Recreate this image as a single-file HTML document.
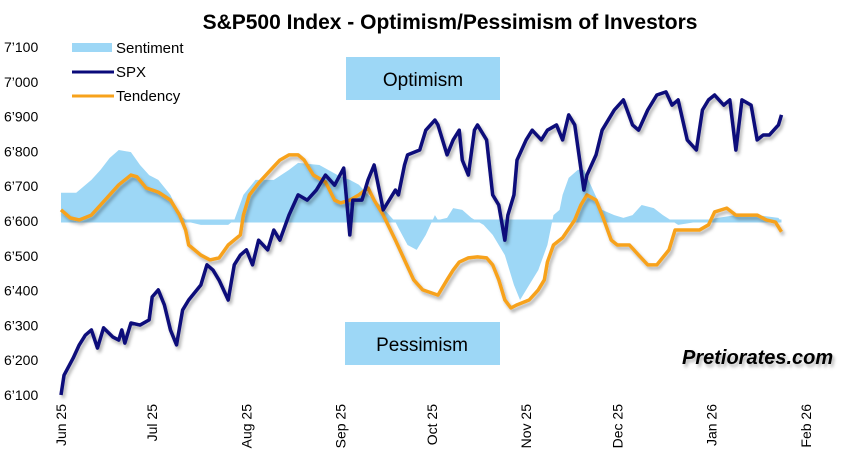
<!DOCTYPE html>
<html><head><meta charset="utf-8"><style>
body{margin:0;background:#fff}
svg{display:block;font-family:"Liberation Sans",Arial,sans-serif}
</style></head><body>
<svg id="c" width="852" height="460">
<defs><filter id="sh" x="-5%" y="-5%" width="110%" height="120%"><feDropShadow dx="2" dy="3" stdDeviation="1.5" flood-color="#000" flood-opacity="0.3"/></filter></defs>
<text x="450" y="29" text-anchor="middle" font-size="21" font-weight="bold">S&amp;P500 Index - Optimism/Pessimism of Investors</text>
<rect x="346" y="57" width="154" height="43" fill="#9dd7f6"/>
<text x="423" y="86" text-anchor="middle" font-size="19">Optimism</text>
<rect x="345" y="322" width="155" height="43" fill="#9dd7f6"/>
<text x="422" y="351" text-anchor="middle" font-size="19">Pessimism</text>
<g id="plot"></g>
<g>
<rect x="72" y="43" width="40" height="9" fill="#9dd7f6"/>
<text x="116" y="53" font-size="15">Sentiment</text>
<line x1="72" y1="72" x2="114" y2="72" stroke="#0a0a7a" stroke-width="3"/>
<text x="116" y="77" font-size="15">SPX</text>
<line x1="72" y1="96" x2="114" y2="96" stroke="#f7a21b" stroke-width="3"/>
<text x="116" y="101" font-size="15">Tendency</text>
</g>
<text x="682" y="364" font-size="20" font-weight="bold" font-style="italic" filter="url(#sh)">Pretiorates.com</text>
</svg>
<script>
const yTicks=[6100,6200,6300,6400,6500,6600,6700,6800,6900,7000,7100];
const monthLabels=["Jun 25","Jul 25","Aug 25","Sep 25","Oct 25","Nov 25","Dec 25","Jan 26","Feb 26"];
const monthDays=[0,30,61,92,122,153,183,214,245];
const spxDays=[0,1,4,6,8,10,12,14,17,19,20,21,23,26,29,30,32,34,36,38,40,42,46,48,50,52,55,57,59,61,63,65,68,70,72,75,78,81,84,87,90,93,95,96,99,101,103,105,106,110,111,113,114,118,120,123,124,127,129,131,132,134,136,137,140,142,144,146,147,149,150,153,155,158,160,163,165,167,169,172,173,176,178,180,182,185,188,190,193,196,199,201,203,206,209,211,213,215,218,220,222,224,227,229,231,233,236,237];
const spxValues=[6100,6157,6206,6244,6272,6287,6235,6293,6267,6258,6287,6249,6307,6301,6316,6382,6402,6359,6287,6244,6344,6373,6416,6474,6459,6430,6373,6474,6502,6517,6474,6545,6517,6574,6545,6617,6675,6660,6689,6732,6703,6752,6560,6660,6660,6718,6761,6675,6632,6689,6675,6761,6790,6804,6861,6890,6876,6790,6833,6861,6775,6732,6861,6876,6833,6675,6646,6545,6617,6675,6775,6833,6861,6833,6861,6876,6833,6905,6876,6689,6732,6790,6861,6890,6919,6948,6876,6861,6919,6962,6971,6933,6948,6833,6804,6919,6948,6962,6933,6948,6804,6948,6933,6833,6847,6847,6876,6905];
const tenDays=[0,3,6,10,13,16,19,23,25,28,32,36,39,41,42,46,49,52,55,59,60,62,65,69,72,75,78,80,83,87,90,92,95,98,101,103,106,110,113,116,119,124,127,129,131,134,137,140,142,144,146,148,150,154,157,159,160,162,165,169,171,173,176,178,181,183,187,190,193,196,200,202,206,210,213,215,219,222,225,229,232,235,237];
const tenValues=[6632,6609,6603,6617,6646,6675,6704,6732,6727,6695,6683,6660,6617,6574,6531,6502,6488,6494,6531,6560,6617,6675,6709,6747,6775,6790,6790,6775,6732,6712,6660,6652,6660,6675,6695,6660,6617,6545,6488,6431,6402,6387,6431,6459,6482,6494,6497,6494,6474,6431,6373,6350,6359,6373,6402,6431,6482,6531,6552,6603,6646,6675,6660,6617,6545,6531,6531,6502,6474,6474,6517,6574,6574,6574,6589,6626,6637,6617,6617,6617,6603,6597,6569];
const senDays=[0,5,10,13,16,19,23,26,29,32,36,39,42,46,55,57,60,64,70,75,78,85,91,95,98,101,105,108,110,111,114,117,120,123,124,127,129,132,135,139,142,146,149,151,154,157,160,162,164,165,167,170,172,175,178,182,185,188,191,195,198,203,209,216,222,229,236,237];
const senValues=[6681,6681,6718,6747,6781,6804,6798,6761,6732,6718,6675,6617,6597,6589,6589,6603,6675,6718,6718,6747,6767,6761,6732,6718,6704,6675,6646,6617,6597,6580,6531,6517,6560,6617,6603,6609,6637,6632,6609,6589,6560,6502,6416,6373,6416,6459,6531,6617,6632,6675,6724,6747,6747,6689,6632,6617,6609,6617,6646,6637,6617,6589,6597,6609,6617,6617,6609,6597];
const baseline=6600;
const NS="http://www.w3.org/2000/svg";
const X=d=>61+d*3.04;
const Y=v=>395-(v-6100)*0.348;
const g=document.getElementById('plot');
function mk(t,a){const e=document.createElementNS(NS,t);for(const k in a)e.setAttribute(k,a[k]);g.appendChild(e);return e;}
yTicks.forEach(v=>{const t=mk('text',{x:4,y:Y(v)+5,'font-size':14});t.textContent=String(v).replace(/^(\d)/,"$1’");

});
monthLabels.forEach((m,i)=>{const x=X(monthDays[i])+5;const t=mk('text',{x:0,y:0,'font-size':14,'text-anchor':'end',transform:`translate(${x},404) rotate(-90)`});t.textContent=m;

});
let d=`M${X(senDays[0])},${Y(baseline)}`;senDays.forEach((s,i)=>d+=`L${X(s)},${Y(senValues[i])}`);d+=`L${X(senDays[senDays.length-1])},${Y(baseline)}Z`;
const a=mk('path',{d,fill:'#9dd7f6'});


const bl=mk('line',{x1:X(0),x2:X(237),y1:Y(baseline),y2:Y(baseline),stroke:'#9dd7f6','stroke-width':3});


function line(days,vals,col){return mk('polyline',{points:days.map((s,i)=>X(s)+','+Y(vals[i])).join(' '),fill:'none',stroke:col,'stroke-width':3.5,'stroke-linejoin':'round',filter:'url(#sh)'});}
const tl=line(tenDays,tenValues,'#f7a21b');


const sl=line(spxDays,spxValues,'#0a0a7a');


</script>
</body></html>
